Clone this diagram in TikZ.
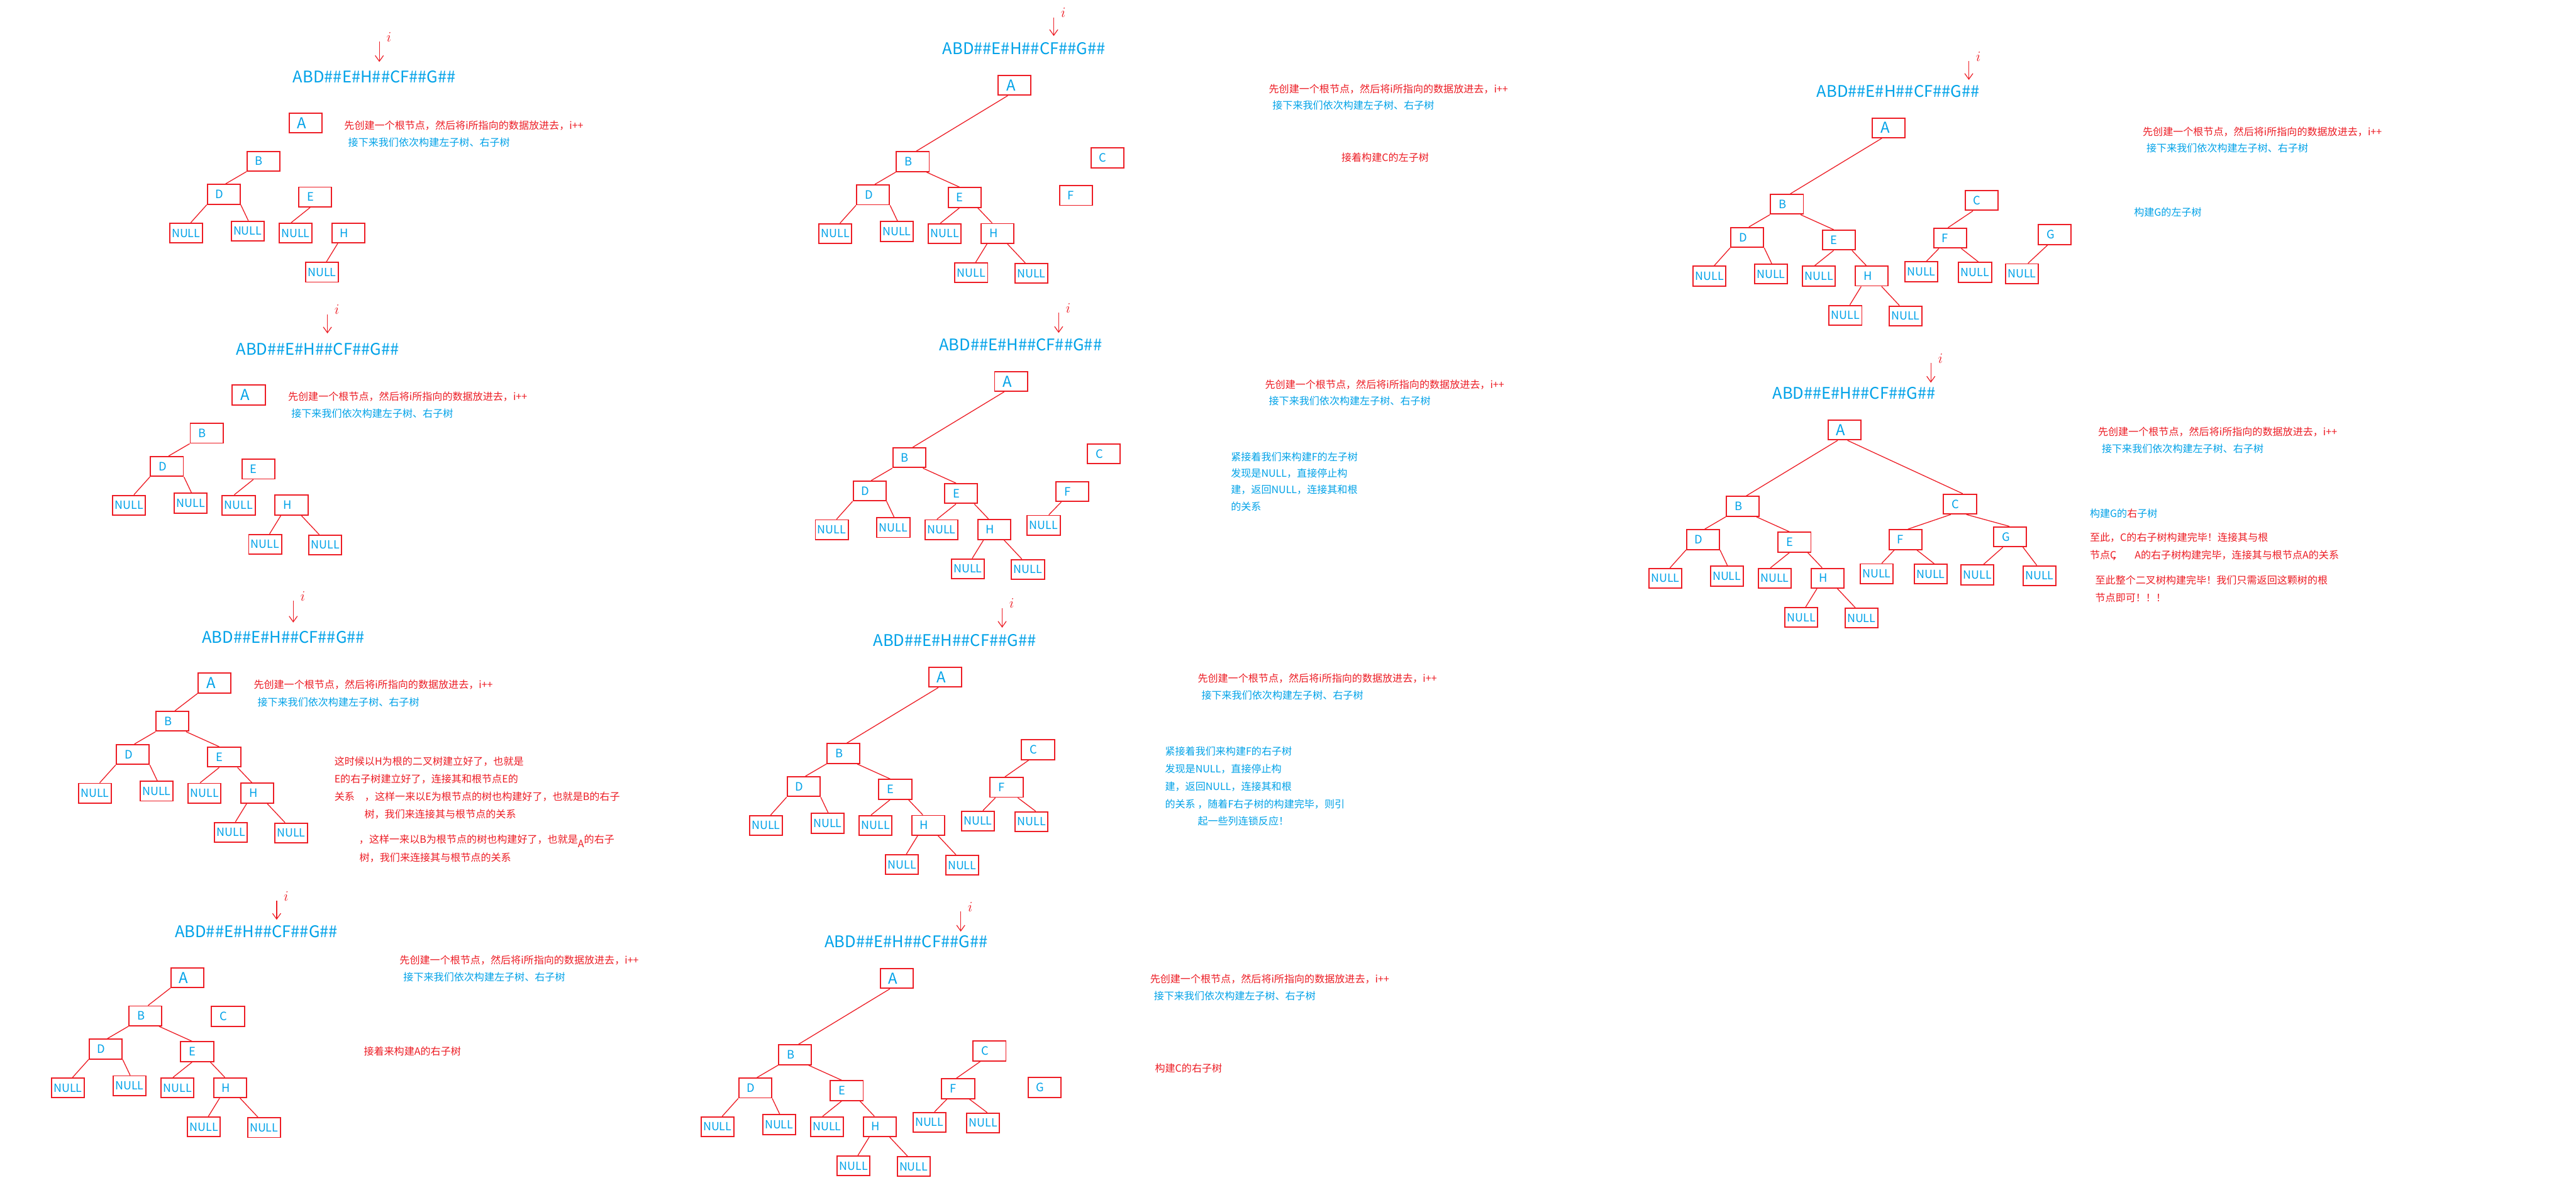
\documentclass[tikz,border=0pt]{standalone}
\usepackage{fontspec}
\setmainfont{Noto Sans CJK SC}
\usetikzlibrary{arrows.meta,calc}
\definecolor{treeRed}{RGB}{237,28,36}
\definecolor{treeBlue}{RGB}{0,162,232}
\newcommand{\cnsize}{\fontsize{17.5}{21}\selectfont}
% branch from the lower edge of one box to the upper edge of the next
\newcommand{\treetwig}[4]{%
  \draw[treeline] ($(#1.south west)!#2!(#1.south east)$) -- ($(#3.north west)!#4!(#3.north east)$);}
% the i pointer above the input string
\newcommand{\ipointer}[4]{%
  \coordinate (#1Tail) at (#2,#3);
  \coordinate (#1Tip) at (#2,#4);
  \node[ilabel] (#1I) at ({#2+5.8},{#3-2.8}) {$i$};
  \draw[iarrow] (#1Tail) -- (#1Tip);}
% B and its subtree, origin at the top left corner of B
\newcommand{\bsubtree}[1]{%
  \node[letterbox] (#1B) at (10,6) {B};
  \node[letterbox] (#1D) at (-14.2,26.2) {D};
  \node[letterbox] (#1E) at (41.5,27.8) {E};
  \node[letterbox] (#1H) at (61.6,49.7) {H};
  \node[nullbox] (#1Na) at (-37.2,49.8) {NULL};
  \node[nullbox] (#1Nb) at (0.3,48.5) {NULL};
  \node[nullbox] (#1Nc) at (29.5,49.8) {NULL};
  \node[nullbox] (#1Nd) at (45.6,73.6) {NULL};
  \treetwig{#1B}{0}{#1D}{.55}
  \treetwig{#1D}{0}{#1Na}{.64}
  \treetwig{#1D}{1}{#1Nb}{.52}
  \treetwig{#1E}{.35}{#1Nc}{.37}
  \treetwig{#1H}{.19}{#1Nd}{.63}}
\newcommand{\bsubrest}[1]{%
  \node[nullbox] (#1Ne) at (82.2,74) {NULL};
  \treetwig{#1H}{.79}{#1Ne}{.32}
  \treetwig{#1B}{.9}{#1E}{.35}
  \treetwig{#1E}{.89}{#1H}{.34}}

\begin{document}
\begin{tikzpicture}[
  x=1mm, y=-1mm,
  treebox/.style={draw=treeRed, line width=2.1pt, minimum width=20mm, minimum height=12mm, text=treeBlue},
  letterbox/.style={treebox, inner xsep=5mm, text width=10mm, align=left, font=\fontsize{20}{20}\selectfont},
  rootbox/.style={letterbox, font=\fontsize{26}{26}\selectfont},
  nullbox/.style={treebox, inner sep=0pt, font=\fontsize{19.5}{20}\selectfont},
  seqtext/.style={text=treeBlue, inner sep=0pt, font=\fontsize{27.8}{30}\selectfont},
  redline/.style={anchor=west, inner sep=0pt, text=treeRed, font=\cnsize},
  blueline/.style={redline, text=treeBlue},
  treeline/.style={treeRed, line width=1.4pt},
  iarrow/.style={treeRed, line width=1.3pt, -{Straight Barb[length=3.5mm,width=5mm]}},
  ilabel/.style={text=treeRed, inner sep=0pt, font=\fontsize{28}{28}\selectfont}
]
  \useasboundingbox[fill=white] (0,0) rectangle (1568,724);

  % step 1
  \begin{scope}[shift={(150.4,92.1)}]
    \node[rootbox] (s1A) at (35.6,-17.3) {A};
    \node[seqtext] (s1Seq) at (77.5,-45.3) {ABD\#\#E\#H\#\#CF\#\#G\#\#};
    \ipointer{s1}{80.5}{-66.9}{-54.4}
    \node[redline] (s1Red) at (59.1,-15.9) {先创建一个根节点，然后将i所指向的数据放进去，i++};
    \node[blueline] (s1Blue) at (61.5,-5.6) {接下来我们依次构建左子树、右子树};
    \bsubtree{s1}
  \end{scope}

  % step 2
  \begin{scope}[shift={(115.8,257.7)}]
    \node[rootbox] (s2A) at (35.6,-17.3) {A};
    \node[seqtext] (s2Seq) at (77.5,-45.3) {ABD\#\#E\#H\#\#CF\#\#G\#\#};
    \ipointer{s2}{83.5}{-66.4}{-54.8}
    \node[redline] (s2Red) at (59.5,-16.2) {先创建一个根节点，然后将i所指向的数据放进去，i++};
    \node[blueline] (s2Blue) at (61.5,-6) {接下来我们依次构建左子树、右子树};
    \bsubtree{s2}
    \node[nullbox] (s2Ne) at (82.2,74) {NULL};
    \treetwig{s2H}{.79}{s2Ne}{.32}
  \end{scope}

  % step 3
  \begin{scope}[shift={(95,433)}]
    \node[rootbox] (s3A) at (35.6,-17.3) {A};
    \node[seqtext] (s3Seq) at (77.5,-45.3) {ABD\#\#E\#H\#\#CF\#\#G\#\#};
    \ipointer{s3}{83.5}{-67.4}{-54.1}
    \node[redline] (s3Red) at (59.4,-16.3) {先创建一个根节点，然后将i所指向的数据放进去，i++};
    \node[blueline] (s3Blue) at (61.7,-5.6) {接下来我们依次构建左子树、右子树};
    \bsubtree{s3}
    \bsubrest{s3}
    \treetwig{s3A}{0}{s3B}{.57}
    \node[redline] (s3Note1) at (108.5,30.3) {这时候以H为根的二叉树建立好了，也就是};
    \node[redline] (s3Note2) at (108.5,41.2) {E的右子树建立好了，连接其和根节点E的};
    \node[redline] (s3Note3) at (108.5,51.7) {关系　，这样一来以E为根节点的树也构建好了，也就是B的右子};
    \node[redline] (s3Note4) at (126.8,62.5) {树，我们来连接其与根节点的关系};
    \node[redline] (s3Note5) at (123.5,78.9) {，这样一来以B为根节点的树也构建好了，也就是\raisebox{-.4em}{A}的右子};
    \node[redline] (s3Note6) at (123.8,89) {树，我们来连接其与根节点的关系};
  \end{scope}

  % step 4
  \begin{scope}[shift={(78.5,612.3)}]
    \node[rootbox] (s4A) at (35.6,-17.3) {A};
    \node[seqtext] (s4Seq) at (77.5,-45.3) {ABD\#\#E\#H\#\#CF\#\#G\#\#};
    \ipointer{s4}{89.9}{-64.1}{-52.5}
    \node[redline] (s4Red) at (164.7,-27.9) {先创建一个根节点，然后将i所指向的数据放进去，i++};
    \node[blueline] (s4Blue) at (167,-17.6) {接下来我们依次构建左子树、右子树};
    \node[letterbox] (s4C) at (60.3,6.3) {C};
    \node[redline] (s4Note) at (142.9,27.5) {接着来构建A的右子树};
    \bsubtree{s4}
    \bsubrest{s4}
    \treetwig{s4A}{0}{s4B}{.58}
  \end{scope}

  % step 5
  \begin{scope}[shift={(545.6,92.4)}]
    \node[rootbox] (s5A) at (71.9,-40.5) {A};
    \node[seqtext] (s5Seq) at (77.7,-62.8) {ABD\#\#E\#H\#\#CF\#\#G\#\#};
    \ipointer{s5}{95.8}{-81.8}{-70.5}
    \node[redline] (s5Red) at (226.7,-38.2) {先创建一个根节点，然后将i所指向的数据放进去，i++};
    \node[blueline] (s5Blue) at (228.9,-28.3) {接下来我们依次构建左子树、右子树};
    \node[letterbox] (s5C) at (128.4,3.7) {C};
    \node[letterbox] (s5F) at (109.3,26.6) {F};
    \node[redline] (s5Note) at (270.9,3.6) {接着构建C的左子树};
    \bsubtree{s5}
    \bsubrest{s5}
    \treetwig{s5A}{.3}{s5B}{.6}
  \end{scope}

  % step 6
  \begin{scope}[shift={(543.5,272.6)}]
    \node[rootbox] (s6A) at (71.9,-40.5) {A};
    \node[seqtext] (s6Seq) at (77.7,-62.8) {ABD\#\#E\#H\#\#CF\#\#G\#\#};
    \ipointer{s6}{100.9}{-82.2}{-70}
    \node[redline] (s6Red) at (226.5,-38.6) {先创建一个根节点，然后将i所指向的数据放进去，i++};
    \node[blueline] (s6Blue) at (228.8,-28.4) {接下来我们依次构建左子树、右子树};
    \node[letterbox] (s6C) at (128.4,3.7) {C};
    \node[letterbox] (s6F) at (109.3,26.6) {F};
    \node[nullbox] (s6Nf) at (91.8,47.1) {NULL};
    \treetwig{s6F}{.17}{s6Nf}{.65}
    \node[blueline] (s6Note1) at (205.7,5.3) {紧接着我们来构建F的左子树};
    \node[blueline] (s6Note2) at (205.7,15.4) {发现是NULL，直接停止构};
    \node[blueline] (s6Note3) at (205.7,25.6) {建，返回NULL，连接其和根};
    \node[blueline] (s6Note4) at (205.7,35.7) {的关系};
    \bsubtree{s6}
    \bsubrest{s6}
    \treetwig{s6A}{.3}{s6B}{.6}
  \end{scope}

  % step 7
  \begin{scope}[shift={(503.4,452.6)}]
    \node[rootbox] (s7A) at (71.9,-40.5) {A};
    \node[seqtext] (s7Seq) at (77.7,-62.8) {ABD\#\#E\#H\#\#CF\#\#G\#\#};
    \ipointer{s7}{106.6}{-82.6}{-70.6}
    \node[redline] (s7Red) at (225.6,-39.6) {先创建一个根节点，然后将i所指向的数据放进去，i++};
    \node[blueline] (s7Blue) at (227.9,-29.4) {接下来我们依次构建左子树、右子树};
    \node[letterbox] (s7C) at (128.4,3.7) {C};
    \node[letterbox] (s7F) at (109.3,26.6) {F};
    \node[nullbox] (s7Nf) at (91.8,47.1) {NULL};
    \node[nullbox] (s7Ng) at (124.5,47.5) {NULL};
    \treetwig{s7C}{.23}{s7F}{.45}
    \treetwig{s7F}{.17}{s7Nf}{.65}
    \treetwig{s7F}{.83}{s7Ng}{.62}
    \node[blueline] (s7Note1) at (205.7,4.6) {紧接着我们来构建F的右子树};
    \node[blueline] (s7Note2) at (205.7,15.6) {发现是NULL，直接停止构};
    \node[blueline] (s7Note3) at (205.7,26.2) {建，返回NULL，连接其和根};
    \node[blueline] (s7Note4) at (205.7,36.7) {的关系 ，随着F右子树的构建完毕，则引};
    \node[blueline] (s7Note5) at (225.6,47.3) {起一些列连锁反应！};
    \bsubtree{s7}
    \bsubrest{s7}
    \treetwig{s7A}{.3}{s7B}{.6}
  \end{scope}

  % step 8
  \begin{scope}[shift={(473.9,636)}]
    \node[rootbox] (s8A) at (71.9,-40.5) {A};
    \node[seqtext] (s8Seq) at (77.7,-62.8) {ABD\#\#E\#H\#\#CF\#\#G\#\#};
    \ipointer{s8}{110.9}{-81.3}{-69}
    \node[redline] (s8Red) at (226.1,-40) {先创建一个根节点，然后将i所指向的数据放进去，i++};
    \node[blueline] (s8Blue) at (228.4,-29.8) {接下来我们依次构建左子树、右子树};
    \node[letterbox] (s8C) at (128.4,3.7) {C};
    \node[letterbox] (s8F) at (109.3,26.6) {F};
    \node[letterbox] (s8G) at (161.9,25.9) {G};
    \node[nullbox] (s8Nf) at (91.8,47.1) {NULL};
    \node[nullbox] (s8Ng) at (124.5,47.5) {NULL};
    \treetwig{s8C}{.23}{s8F}{.45}
    \treetwig{s8F}{.17}{s8Nf}{.65}
    \treetwig{s8F}{.83}{s8Ng}{.62}
    \node[redline] (s8Note) at (229.1,14) {构建C的右子树};
    \bsubtree{s8}
    \bsubrest{s8}
    \treetwig{s8A}{.3}{s8B}{.6}
  \end{scope}

  % step 9
  \begin{scope}[shift={(1077.7,118.3)}]
    \node[rootbox] (s9A) at (71.9,-40.5) {A};
    \node[seqtext] (s9Seq) at (77.7,-62.8) {ABD\#\#E\#H\#\#CF\#\#G\#\#};
    \ipointer{s9}{120.7}{-81.1}{-69.7}
    \node[redline] (s9Red) at (226.5,-38.1) {先创建一个根节点，然后将i所指向的数据放进去，i++};
    \node[blueline] (s9Blue) at (228.8,-28) {接下来我们依次构建左子树、右子树};
    \node[letterbox] (s9C) at (128.4,3.7) {C};
    \node[letterbox] (s9F) at (109.3,26.6) {F};
    \node[letterbox] (s9G) at (173,24.5) {G};
    \node[nullbox] (s9Nf) at (91.8,47.1) {NULL};
    \node[nullbox] (s9Ng) at (124.5,47.5) {NULL};
    \node[nullbox] (s9Nh) at (153,48.3) {NULL};
    \treetwig{s9C}{.25}{s9F}{.44}
    \treetwig{s9F}{.17}{s9Nf}{.65}
    \treetwig{s9F}{.83}{s9Ng}{.6}
    \treetwig{s9G}{.29}{s9Nh}{.68}
    \node[blueline] (s9Note) at (221.2,11) {构建G的左子树};
    \bsubtree{s9}
    \bsubrest{s9}
    \treetwig{s9A}{.3}{s9B}{.6}
  \end{scope}

  % step 10
  \begin{scope}[shift={(1050.8,302.2)}]
    \node[rootbox] (s10A) at (71.9,-40.5) {A};
    \node[seqtext] (s10Seq) at (77.7,-62.8) {ABD\#\#E\#H\#\#CF\#\#G\#\#};
    \ipointer{s10}{124.5}{-81.2}{-69.3}
    \node[redline] (s10Red) at (226.2,-39.2) {先创建一个根节点，然后将i所指向的数据放进去，i++};
    \node[blueline] (s10Blue) at (228.5,-29) {接下来我们依次构建左子树、右子树};
    \node[letterbox] (s10C) at (142.2,4.6) {C};
    \node[letterbox] (s10F) at (109.1,26.2) {F};
    \node[letterbox] (s10G) at (172.7,24.5) {G};
    \node[nullbox] (s10Nf) at (91.5,47) {NULL};
    \node[nullbox] (s10Ng) at (124.4,47.2) {NULL};
    \node[nullbox] (s10Nh) at (152.8,47.7) {NULL};
    \node[nullbox] (s10Ni) at (190.6,48.2) {NULL};
    \treetwig{s10A}{.59}{s10C}{.58}
    \treetwig{s10C}{.23}{s10F}{.57}
    \treetwig{s10C}{.69}{s10G}{.48}
    \treetwig{s10F}{.17}{s10Nf}{.65}
    \treetwig{s10F}{.83}{s10Ng}{.6}
    \treetwig{s10G}{.29}{s10Nh}{.68}
    \treetwig{s10G}{.88}{s10Ni}{.42}
    \node[blueline] (s10Note1) at (221.2,10.2) {构建G的\textcolor{treeRed}{右}子树};
    \node[redline] (s10Note2) at (221.2,25) {至此，C的右子树构建完毕！连接其与根};
    \node[redline] (s10Note3) at (221.2,35.5) {节点C};
    \node[redline] (s10Comma) at (234.6,37.8) {，};
    \node[redline] (s10Note4) at (248.5,35.5) {A的右子树构建完毕，连接其与根节点A的关系};
    \node[redline] (s10Note5) at (224.5,50.9) {至此整个二叉树构建完毕！我们只需返回这颗树的根};
    \node[redline] (s10Note6) at (224.5,61.6) {节点即可！！！};
    \bsubtree{s10}
    \bsubrest{s10}
    \treetwig{s10A}{.3}{s10B}{.6}
  \end{scope}
\end{tikzpicture}
\end{document}
